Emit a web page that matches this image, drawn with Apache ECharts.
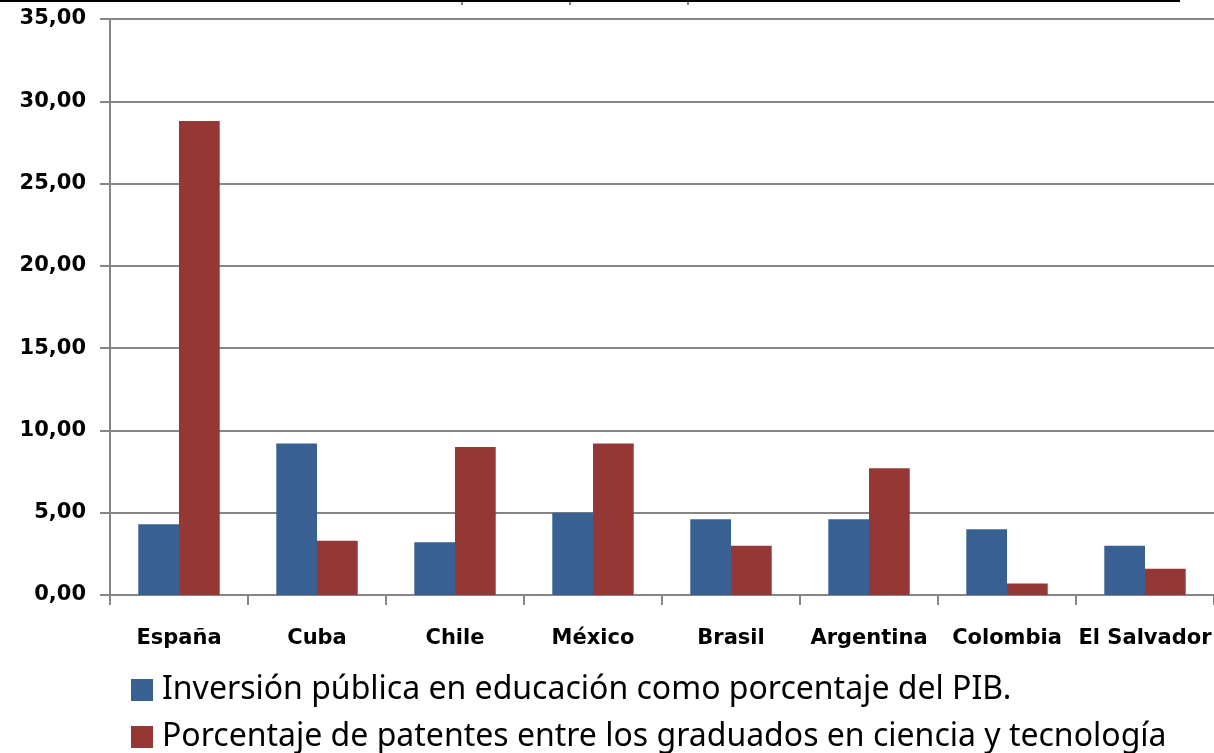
<!DOCTYPE html>
<html>
<head>
<meta charset="utf-8">
<script src="https://cdn.jsdelivr.net/npm/echarts@6/dist/echarts.min.js"></script>
<style>
  html, body { margin: 0; padding: 0; background: #fff; }
  #chart { width: 1214px; height: 753px; }
</style>
</head>
<body>
<div id="chart"></div>
<script>
  // datos
  const paises = ['España', 'Cuba', 'Chile', 'México', 'Brasil', 'Argentina', 'Colombia', 'El Salvador']
  const inversionPIB = [4.3, 9.2, 3.2, 5.0, 4.6, 4.6, 4.0, 3.0]
  const patentes = [28.8, 3.3, 9.0, 9.2, 3.0, 7.7, 0.7, 1.6]
  const nombreSerie1 = 'Inversión pública en educación como porcentaje del PIB.'
  const nombreSerie2 = 'Porcentaje de patentes entre los graduados en ciencia y tecnología'

  const gris = '#868686'
  const fuenteEje = '"DejaVu Sans", Verdana, sans-serif'
  const leyendaBase = {
    left: 126,
    itemWidth: 22,
    itemHeight: 22,
    icon: 'rect',
    textStyle: {
      fontFamily: '"Noto Sans", sans-serif',
      fontSize: 32,
      color: '#000',
      padding: [0, 0, 0, 4],
    },
  }
  const chart = echarts.init(document.getElementById('chart'))

  chart.setOption({
    animation: false,
    backgroundColor: '#fff',
    grid: { left: 110, top: 19, width: 1120, height: 576, containLabel: false },
    legend: [
      Object.assign({}, leyendaBase, { top: 669, data: [nombreSerie1] }),
      Object.assign({}, leyendaBase, { top: 716, data: [nombreSerie2] }),
    ],
    xAxis: {
      type: 'category',
      data: paises,
      axisLine: { lineStyle: { color: gris, width: 2 } },
      axisTick: { show: true, length: 10, lineStyle: { color: gris, width: 2 } },
      axisLabel: {
        margin: 33,
        fontFamily: fuenteEje,
        fontWeight: 'bold',
        fontSize: 21,
        color: '#000',
        interval: 0,
      },
    },
    yAxis: {
      type: 'value',
      min: 0,
      max: 35,
      interval: 5,
      axisLine: { show: true, lineStyle: { color: gris, width: 2 } },
      axisTick: { show: true, length: 10, lineStyle: { color: gris, width: 2 } },
      splitLine: { lineStyle: { color: gris, width: 2 } },
      axisLabel: {
        margin: 24,
        fontFamily: fuenteEje,
        fontWeight: 'bold',
        fontSize: 21,
        color: '#000',
        formatter: (v) => v.toFixed(2).replace('.', ','),
      },
    },
    series: [
      {
        name: nombreSerie1,
        type: 'bar',
        data: inversionPIB,
        itemStyle: { color: '#386092' },
        barGap: '0%',
        barCategoryGap: '41%',
      },
      {
        name: nombreSerie2,
        type: 'bar',
        data: patentes,
        itemStyle: { color: '#953735' },
        barGap: '0%',
        barCategoryGap: '41%',
      },
    ],
    // linea negra del borde superior (restos de tabla)
    graphic: [
      { type: 'line', shape: { x1: 0, y1: 1, x2: 1180, y2: 1 }, style: { stroke: '#000', lineWidth: 2 } },
      { type: 'line', shape: { x1: 462, y1: 0, x2: 462, y2: 5 }, style: { stroke: '#000', lineWidth: 1 } },
      { type: 'line', shape: { x1: 570, y1: 0, x2: 570, y2: 5 }, style: { stroke: '#000', lineWidth: 1 } },
      { type: 'line', shape: { x1: 688, y1: 0, x2: 688, y2: 5 }, style: { stroke: '#000', lineWidth: 1 } },
    ],
  })
</script>
</body>
</html>
